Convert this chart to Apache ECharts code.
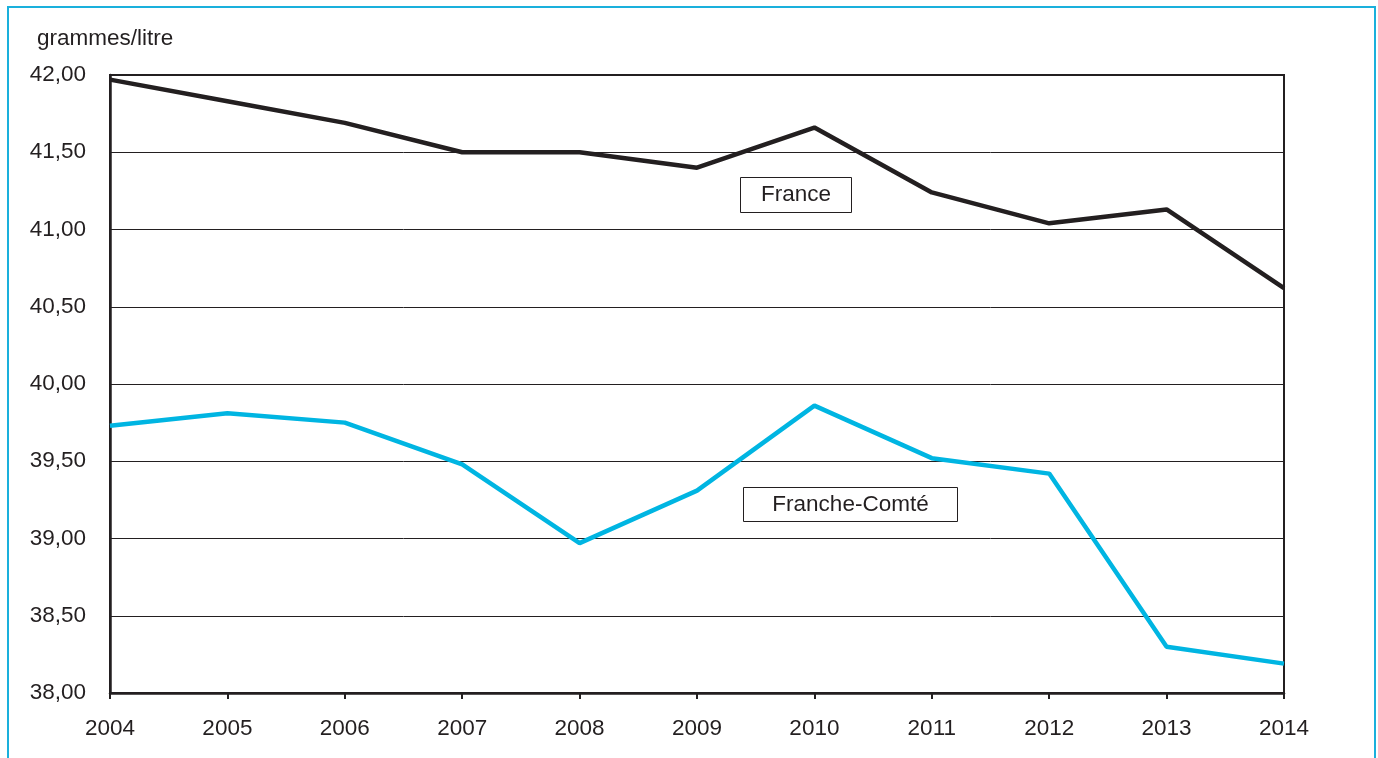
<!DOCTYPE html>
<html>
<head>
<meta charset="utf-8">
<script src="https://cdn.jsdelivr.net/npm/echarts@6/dist/echarts.min.js"></script>
<style>
  html, body { margin: 0; padding: 0; background: #fff; }
  #chart { width: 1378px; height: 758px; }
</style>
</head>
<body>
<div id="chart"></div>
<script>
// années
const years = ['2004', '2005', '2006', '2007', '2008', '2009', '2010', '2011', '2012', '2013', '2014']
// teneur en grammes/litre
const france = [41.97, 41.83, 41.69, 41.50, 41.50, 41.40, 41.66, 41.24, 41.04, 41.13, 40.62]
const francheComte = [39.73, 39.81, 39.75, 39.48, 38.97, 39.31, 39.86, 39.52, 39.42, 38.30, 38.19]

const FONT = 'Liberation Sans, Arial, sans-serif'
const FS = 22.5

const chart = echarts.init(document.getElementById('chart'))

const option = {
  animation: false,
  textStyle: { fontFamily: FONT },
  grid: {
    left: 110,
    right: 94,
    top: 75,
    bottom: 65,
    show: true,
    borderColor: '#231f20',
    borderWidth: 2,
    backgroundColor: 'transparent'
  },
  xAxis: {
    type: 'category',
    data: years,
    boundaryGap: false,
    axisLine: { lineStyle: { color: '#231f20', width: 2.5 } },
    axisTick: { show: true, length: 6, lineStyle: { color: '#231f20', width: 2 } },
    axisLabel: { color: '#231f20', fontSize: FS, margin: 24 },
    splitLine: { show: false }
  },
  yAxis: {
    type: 'value',
    min: 38,
    max: 42,
    interval: 0.5,
    name: 'grammes/litre',
    nameLocation: 'end',
    nameGap: 25,
    nameTextStyle: { color: '#231f20', fontSize: FS, align: 'left', padding: [0, 0, 0, -73] },
    axisLine: { show: true, lineStyle: { color: '#231f20', width: 2.5 } },
    axisTick: { show: false },
    axisLabel: {
      color: '#231f20',
      fontSize: FS,
      margin: 24,
      padding: [5, 0, 0, 0],
      formatter: v => v.toFixed(2).replace('.', ',')
    },
    splitLine: { show: true, lineStyle: { color: '#231f20', width: 1 } }
  },
  series: [
    {
      name: 'France',
      type: 'line',
      data: france,
      symbol: 'none',
      lineStyle: { color: '#231f20', width: 4.5 },
      z: 3
    },
    {
      name: 'Franche-Comté',
      type: 'line',
      data: francheComte,
      symbol: 'none',
      lineStyle: { color: '#00b5e2', width: 4.5 },
      z: 3
    }
  ],
  graphic: [
    {
      type: 'rect',
      shape: { x: 8, y: 7, width: 1367, height: 780 },
      style: { fill: 'none', stroke: '#1ab0dc', lineWidth: 2 },
      silent: true
    },
    {
      type: 'group',
      left: 740,
      top: 177,
      children: [
        { type: 'rect', shape: { x: 0, y: 0, width: 111, height: 35 }, style: { fill: '#fff', stroke: '#231f20', lineWidth: 1 } },
        { type: 'text', x: 55.5, y: 17.5, style: { text: 'France', fill: '#231f20', fontSize: FS, align: 'center', verticalAlign: 'middle', fontFamily: FONT } }
      ]
    },
    {
      type: 'group',
      left: 743,
      top: 487,
      children: [
        { type: 'rect', shape: { x: 0, y: 0, width: 214, height: 34 }, style: { fill: '#fff', stroke: '#231f20', lineWidth: 1 } },
        { type: 'text', x: 107, y: 17, style: { text: 'Franche-Comté', fill: '#231f20', fontSize: FS, align: 'center', verticalAlign: 'middle', fontFamily: FONT } }
      ]
    }
  ]
}

chart.setOption(option)
window.addEventListener('resize', () => chart.resize())
</script>
</body>
</html>
